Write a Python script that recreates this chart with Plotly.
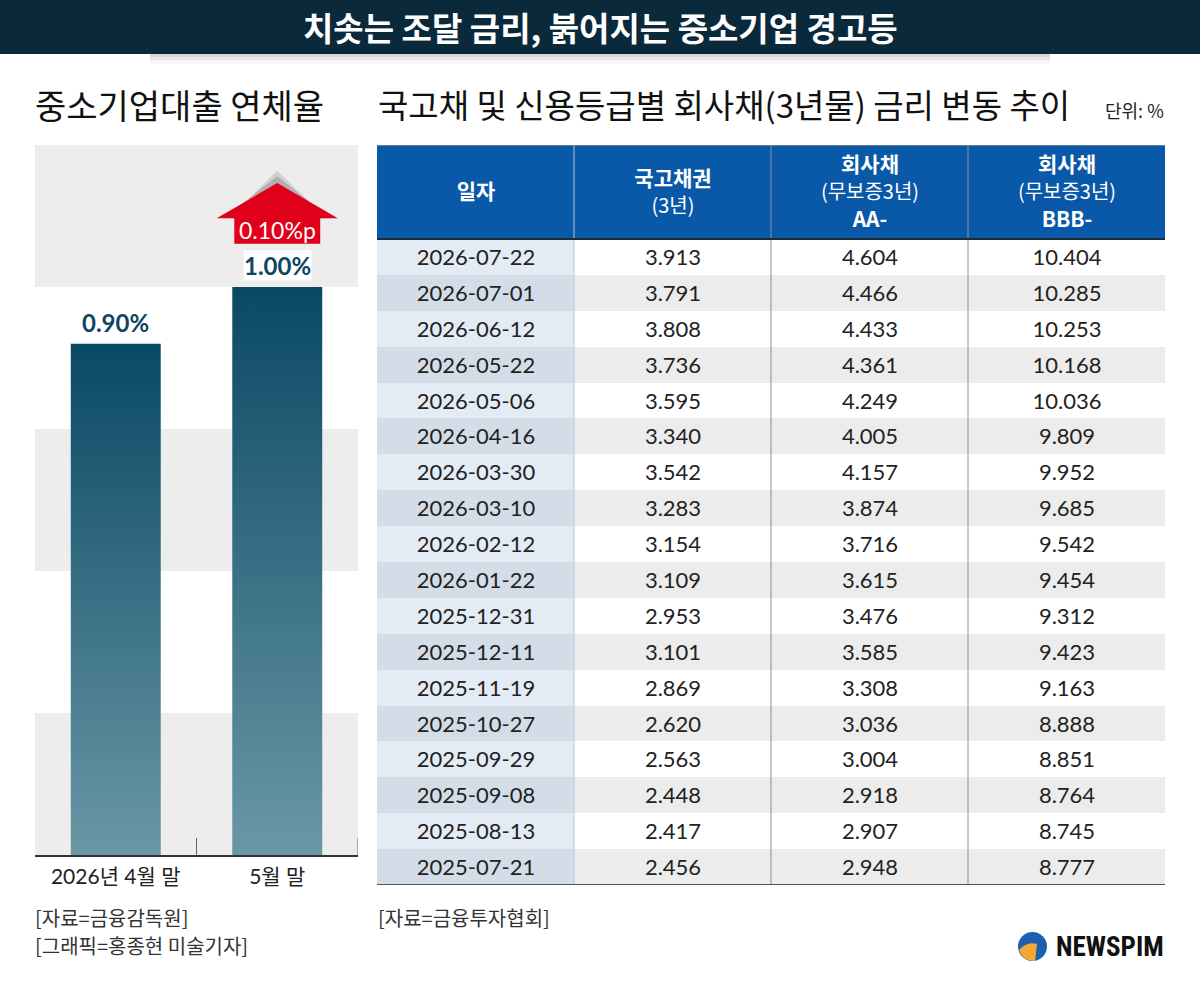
import plotly.graph_objects as go

# ---------------- DATA ----------------
categories = ["2026년 4월 말", "5월 말"]
rates = [0.90, 1.00]

headers = [
    "<b>일자</b>",
    "<b>국고채권</b><br><span style='font-size:20px'>(3년)</span>",
    "<b>회사채</b><br><span style='font-size:20px'>(무보증3년)</span><br><b>AA-</b>",
    "<b>회사채</b><br><span style='font-size:20px'>(무보증3년)</span><br><b>BBB-</b>",
]
dates = ["2026-07-22", "2026-07-01", "2026-06-12", "2026-05-22", "2026-05-06",
         "2026-04-16", "2026-03-30", "2026-03-10", "2026-02-12", "2026-01-22",
         "2025-12-31", "2025-12-11", "2025-11-19", "2025-10-27", "2025-09-29",
         "2025-09-08", "2025-08-13", "2025-07-21"]
ktb3 = [3.913, 3.791, 3.808, 3.736, 3.595, 3.340, 3.542, 3.283, 3.154, 3.109,
        2.953, 3.101, 2.869, 2.620, 2.563, 2.448, 2.417, 2.456]
corp_aa = [4.604, 4.466, 4.433, 4.361, 4.249, 4.005, 4.157, 3.874, 3.716, 3.615,
           3.476, 3.585, 3.308, 3.036, 3.004, 2.918, 2.907, 2.948]
corp_bbb = [10.404, 10.285, 10.253, 10.168, 10.036, 9.809, 9.952, 9.685, 9.542, 9.454,
            9.312, 9.423, 9.163, 8.888, 8.851, 8.764, 8.745, 8.777]

main_title = "치솟는 조달 금리, 붉어지는 중소기업 경고등"
left_title = "중소기업대출 연체율"
right_title = "국고채 및 신용등급별 회사채(3년물) 금리 변동 추이"
unit_text = "단위: %"
left_sources = ["[자료=금융감독원]", "[그래픽=홍종현 미술기자]"]
right_source = "[자료=금융투자협회]"
logo_text = "NEWSPIM"

# ---------------- LAYOUT HELPERS ----------------
W, H = 1200, 992
def px(x): return x / W
def py(y): return 1 - y / H

KR = "Noto Sans CJK KR"
NUM = "Lato, Noto Sans CJK KR"

fig = go.Figure()

# ---------------- LEFT: BAR CHART ----------------
bar_w = 0.557
for i, v in enumerate(rates):
    fig.add_trace(go.Scatter(
        x=[i - bar_w / 2, i - bar_w / 2, i + bar_w / 2, i + bar_w / 2],
        y=[0, v, v, 0],
        fill="toself", mode="lines", line=dict(width=0),
        fillgradient=dict(type="vertical",
                          colorscale=[[0, "#6a97a6"], [1, "#0a4964"]]),
        hoverinfo="skip", showlegend=False, xaxis="x", yaxis="y"))

shapes = []
# alternating background bands
band = 0.25
for k in range(0, 5, 2):
    shapes.append(dict(type="rect", xref="x", yref="y", x0=-0.5, x1=1.5,
                       y0=k * band, y1=(k + 1) * band, fillcolor="#ededed",
                       line=dict(width=0), layer="below"))
# boundary ticks
for b in [0.5, 1.5]:
    shapes.append(dict(type="line", xref="x", yref="y", x0=b, x1=b, y0=0, y1=0.03,
                       line=dict(color="#666", width=1)))

# arrow above last bar
ai = len(rates) - 1
av = rates[-1]
for (dy, hw, op) in [(0.205, 0.30, 0.18), (0.195, 0.33, 0.28)]:
    shadow = f"M {ai-hw},{av+0.121} L {ai},{av+dy} L {ai+hw},{av+0.121} Z"
    shapes.append(dict(type="path", xref="x", yref="y", path=shadow,
                       fillcolor="#555", opacity=op, line=dict(width=0)))
arrow = (f"M {ai-0.375},{av+0.121} L {ai},{av+0.183} L {ai+0.375},{av+0.121} "
         f"L {ai+0.266},{av+0.121} L {ai+0.266},{av+0.076} L {ai-0.266},{av+0.076} "
         f"L {ai-0.266},{av+0.121} Z")
shapes.append(dict(type="path", xref="x", yref="y", path=arrow,
                   fillcolor="#e0001b", line=dict(width=0)))

annotations = []
for i, v in enumerate(rates):
    annotations.append(dict(x=i, y=v, xref="x", yref="y", yanchor="bottom",
                            yshift=6, showarrow=False, text=f"<b>{v:.2f}%</b>",
                            font=dict(family=NUM, size=24, color="#0d4660"),
                            bgcolor="white", borderpad=0))
annotations.append(dict(x=ai, y=av + 0.1, xref="x", yref="y", yanchor="middle",
                        showarrow=False, text=f"{rates[-1]-rates[-2]:.2f}%p",
                        font=dict(family=NUM, size=23, color="white")))

# ---------------- RIGHT: TABLE (heatmap cells) ----------------
HDR = 2.62
n = len(dates)
total = HDR + n
cols = [dates, [f"{v:.3f}" for v in ktb3], [f"{v:.3f}" for v in corp_aa],
        [f"{v:.3f}" for v in corp_bbb]]

fig.add_trace(go.Heatmap(
    z=[[0, 0, 0, 0]], x=[0, 1, 2, 3, 4], y=[0, HDR],
    colorscale=[[0, "#0a58a8"], [1, "#0a58a8"]], showscale=False,
    text=[headers], texttemplate="%{text}",
    textfont=dict(family=KR, size=21, color="white"),
    hoverinfo="skip", xaxis="x2", yaxis="y2"))

body_z = []
body_text = []
for r in range(n):
    even = r % 2 == 1
    body_z.append([1 if even else 0] + [3 if even else 2] * 3)
    body_text.append([cols[c][r] for c in range(4)])
fig.add_trace(go.Heatmap(
    z=body_z, x=[0, 1, 2, 3, 4], y=[HDR + r for r in range(n + 1)],
    zmin=0, zmax=3,
    colorscale=[[0, "#e3ebf5"], [1 / 3, "#d3dde8"], [2 / 3, "#ffffff"], [1, "#ececec"]],
    showscale=False, text=body_text, texttemplate="%{text}",
    textfont=dict(family=NUM, size=22, color="#222", weight="normal"),
    hoverinfo="skip", xaxis="x2", yaxis="y2"))

shapes.append(dict(type="line", xref="x2", yref="y2", x0=1, x1=1, y0=0, y1=total,
                   line=dict(color="#b8c6d6", width=1)))
for c in [2, 3]:
    shapes.append(dict(type="line", xref="x2", yref="y2", x0=c, x1=c, y0=0, y1=total,
                       line=dict(color="#8a8f96", width=1)))
shapes.append(dict(type="line", xref="x2", yref="y2", x0=0, x1=4, y0=0, y1=0,
                   line=dict(color="#8a8a8a", width=1.5)))
shapes.append(dict(type="line", xref="x2", yref="y2", x0=0, x1=4, y0=HDR, y1=HDR,
                   line=dict(color="#1d2a3a", width=2)))
shapes.append(dict(type="line", xref="x2", yref="y2", x0=0, x1=4, y0=total, y1=total,
                   line=dict(color="#555", width=2)))

# ---------------- HEADER BAR ----------------
shapes.append(dict(type="rect", xref="paper", yref="paper", x0=0, x1=1,
                   y0=py(54), y1=1, fillcolor="#0a2a3b", line=dict(width=0)))
for (a, b, op) in [(54, 57, 0.16), (57, 60, 0.09), (60, 64, 0.04)]:
    shapes.append(dict(type="rect", xref="paper", yref="paper", x0=px(150), x1=px(1050),
                       y0=py(b), y1=py(a), fillcolor="#000", opacity=op,
                       line=dict(width=0), layer="below"))

def note(x, y, text, size, color, xanchor="left", family=KR):
    annotations.append(dict(x=x, y=y, xref="paper", yref="paper", xanchor=xanchor,
                            yanchor="middle", showarrow=False, text=text,
                            font=dict(family=family, size=size, color=color)))

note(0.5, py(27), f"<b>{main_title}</b>", 33, "white", xanchor="center")
note(px(33), py(104), left_title, 34, "#111")
note(px(376), py(104), right_title, 33, "#111")
note(px(1166), py(110), unit_text, 18, "#222", xanchor="right")
for k, s in enumerate(left_sources):
    note(px(33), py(917 + 28 * k), s, 20, "#333")
note(px(376), py(917), right_source, 20, "#333")

# logo
shapes.append(dict(type="circle", xref="paper", yref="paper",
                   x0=px(1018), x1=px(1047), y0=py(961), y1=py(932),
                   fillcolor="#1f5fb2", line=dict(width=0)))
gold = (f"M {px(1019)},{py(950)} Q {px(1023)},{py(962)} {px(1035)},{py(961)} "
        f"L {px(1037)},{py(944)} Q {px(1027)},{py(941)} {px(1019)},{py(950)} Z")
shapes.append(dict(type="path", xref="paper", yref="paper", path=gold,
                   fillcolor="#f2a933", line=dict(width=0)))
note(px(1166), py(947), f"<b>{logo_text}</b>", 27, "#111", xanchor="right",
     family="Liberation Sans Narrow, Roboto Condensed, Roboto")

fig.update_layout(
    width=W, height=H, margin=dict(l=0, r=0, t=0, b=0),
    paper_bgcolor="white", plot_bgcolor="rgba(0,0,0,0)",
    showlegend=False, shapes=shapes, annotations=annotations,
    xaxis=dict(domain=[px(35), px(358)], range=[-0.5, 1.5], tickvals=list(range(len(categories))),
               ticktext=categories, showline=True, linecolor="#333", linewidth=1.5,
               showgrid=False, zeroline=False, ticks="", ticklabelstandoff=2,
               tickfont=dict(family=NUM, size=21, color="#222"), fixedrange=True, anchor="y"),
    yaxis=dict(domain=[py(855), py(145)], range=[0, 1.25], visible=False,
               fixedrange=True, anchor="x"),
    xaxis2=dict(domain=[px(377), px(1165)], range=[0, 4], visible=False,
                fixedrange=True, anchor="y2"),
    yaxis2=dict(domain=[py(885), py(145)], range=[total, 0], visible=False,
                fixedrange=True, anchor="x2"),
)

fig.write_html("out.html", config={"displayModeBar": False},
               post_script="document.body.style.margin='0';")
